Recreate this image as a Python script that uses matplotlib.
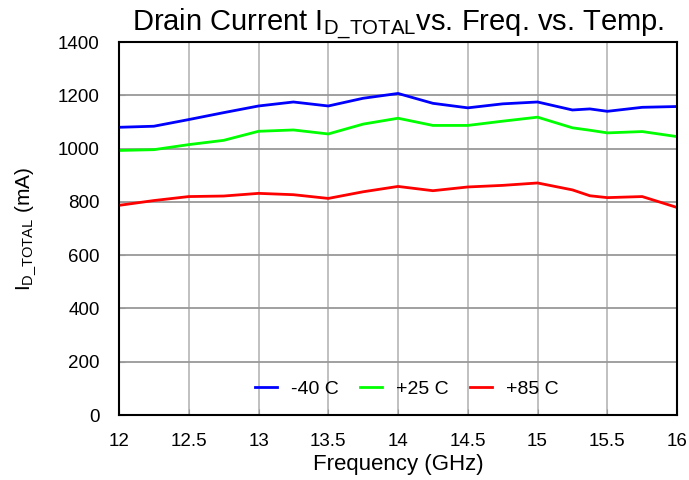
import matplotlib.pyplot as plt

plt.rcParams['font.family'] = ['Liberation Sans', 'DejaVu Sans']
plt.rcParams['mathtext.fontset'] = 'custom'
plt.rcParams['mathtext.rm'] = 'Liberation Sans'
plt.rcParams['mathtext.it'] = 'Liberation Sans'

# frequency points (GHz)
freq = [12, 12.25, 12.5, 12.75, 13, 13.25, 13.5, 13.75, 14, 14.25, 14.5, 14.75,
        15, 15.25, 15.375, 15.5, 15.75, 16]

# drain current (mA) per temperature
i_m40 = [1080, 1084, 1109, 1135, 1160, 1175, 1160, 1189, 1207, 1170, 1153, 1168,
         1175, 1145, 1149, 1140, 1155, 1158]
i_p25 = [993, 996, 1015, 1031, 1065, 1070, 1055, 1092, 1114, 1087, 1087, 1103,
         1118, 1078, 1069, 1059, 1064, 1045]
i_p85 = [787, 805, 820, 822, 832, 827, 813, 838, 858, 842, 856, 862,
         871, 845, 823, 816, 820, 779]

labels = ['-40 C', '+25 C', '+85 C']
colors = ['#0000ff', '#00ff00', '#ff0000']

fig = plt.figure(figsize=(6.89, 4.8), dpi=100)
ax = fig.add_axes([0.1727, 0.1354, 0.81, 0.777])

for y, lab, c in zip([i_m40, i_p25, i_p85], labels, colors):
    ax.plot(freq, y, color=c, linewidth=2, label=lab)

ax.set_xlim(12, 16)
ax.set_ylim(0, 1400)
ax.set_xticks([12, 12.5, 13, 13.5, 14, 14.5, 15, 15.5, 16])
ax.set_xticklabels(['12', '12.5', '13', '13.5', '14', '14.5', '15', '15.5', '16'])
ax.set_yticks(range(0, 1401, 200))
ax.tick_params(direction='in', labelsize=13.5, length=4, color='#999999')
ax.tick_params(axis='y', pad=14)
ax.tick_params(axis='x', pad=13)
ax.xaxis.grid(True, color='#bbbbbb', linewidth=1.3)
ax.yaxis.grid(True, color='#999999', linewidth=1.3)
for s in ax.spines.values():
    s.set_color('black')
    s.set_linewidth(1.5)

ax.set_xlabel('Frequency (GHz)', fontsize=16, labelpad=3)
ax.set_ylabel(r'$\mathregular{I_{D\_TOTAL}}$ (mA)', fontsize=15, labelpad=14)
ax.set_title(r'Drain Current $\mathregular{I_{D\_TOTAL}}$vs. Freq. vs. Temp.',
             fontsize=21, pad=5)

ax.legend(loc='lower center', bbox_to_anchor=(0.515, 0.0), ncol=3, frameon=False,
          fontsize=14, handlelength=1.15, columnspacing=1.1, handletextpad=0.7)

fig.savefig('out.png', dpi=100)
